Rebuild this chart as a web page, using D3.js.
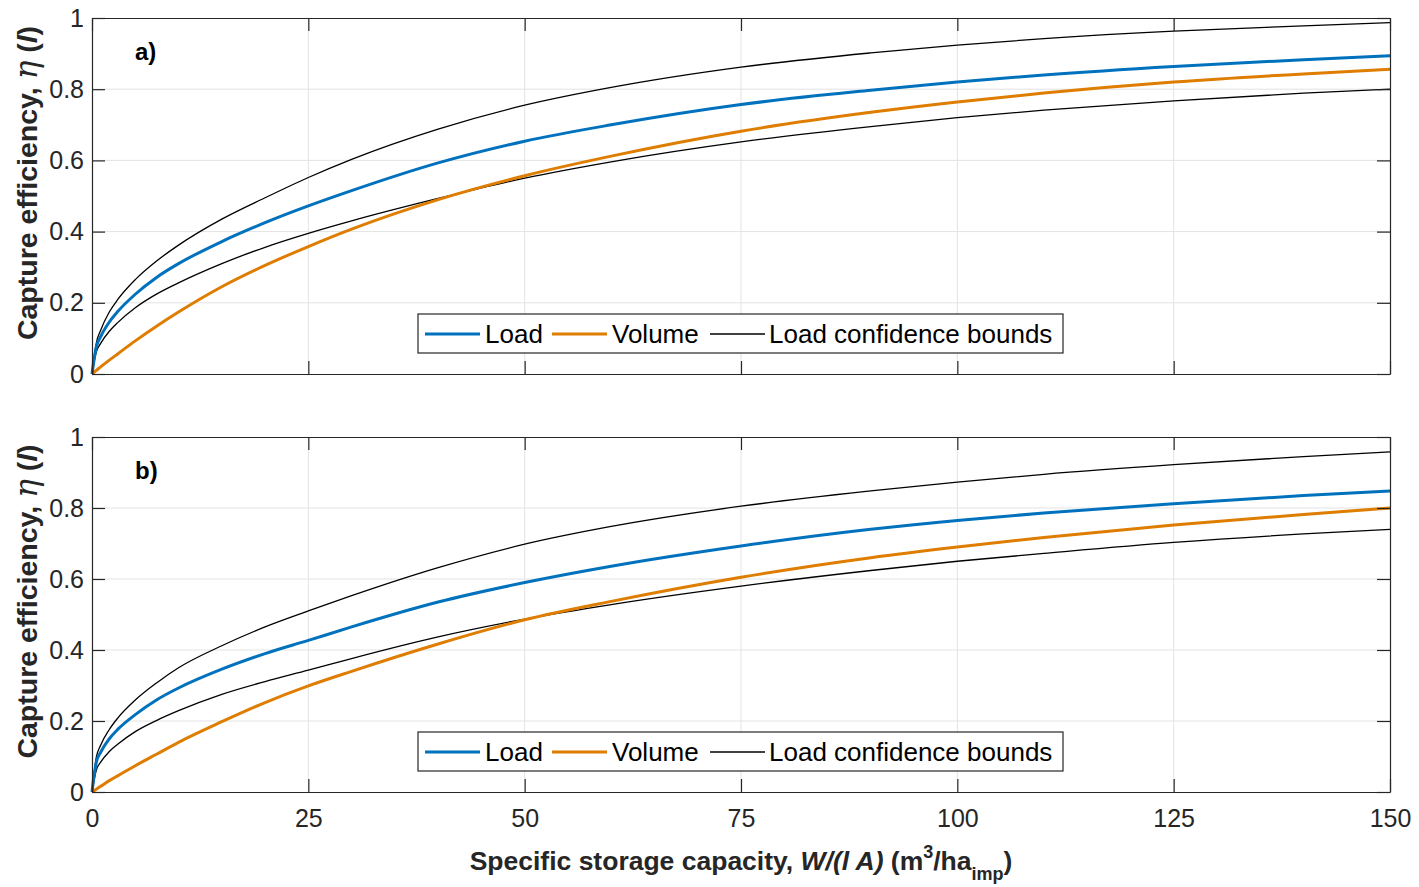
<!DOCTYPE html>
<html>
<head>
<meta charset="utf-8">
<script src="https://cdn.jsdelivr.net/npm/d3@7"></script>
<style>
  body { margin: 0; background: #fff; }
  svg { font-family: "Liberation Sans", Arial, sans-serif; }
</style>
</head>
<body>
<svg width="1419" height="887"></svg>
<script>
// storage capacity (m3/ha_imp) where the curves were read
var capacity = [0, 0.5, 1, 2, 3, 5, 7.5, 10, 15, 20, 25, 30, 40, 50, 60, 75, 90, 100, 110, 125, 140, 150];

// panel a)
var loadA  = [0, 0.076, 0.105, 0.146, 0.176, 0.224, 0.272, 0.31, 0.372, 0.425, 0.472, 0.515, 0.593, 0.654, 0.70, 0.757, 0.797, 0.820, 0.840, 0.864, 0.883, 0.894];
var volA   = [0, 0.01, 0.02, 0.039, 0.057, 0.093, 0.135, 0.174, 0.245, 0.305, 0.358, 0.407, 0.49, 0.557, 0.612, 0.682, 0.735, 0.764, 0.789, 0.82, 0.843, 0.856];
var upA    = [0, 0.087, 0.123, 0.174, 0.21, 0.265, 0.318, 0.362, 0.435, 0.495, 0.552, 0.603, 0.688, 0.755, 0.805, 0.862, 0.902, 0.924, 0.942, 0.963, 0.978, 0.987];
var lowA   = [0, 0.062, 0.086, 0.12, 0.145, 0.186, 0.225, 0.256, 0.31, 0.356, 0.395, 0.43, 0.493, 0.550, 0.596, 0.652, 0.695, 0.720, 0.741, 0.767, 0.789, 0.800];

// panel b)
var loadB  = [0, 0.084, 0.112, 0.15, 0.177, 0.218, 0.26, 0.293, 0.346, 0.39, 0.427, 0.465, 0.535, 0.59, 0.636, 0.693, 0.740, 0.765, 0.786, 0.812, 0.835, 0.848];
var volB   = [0, 0.008, 0.016, 0.032, 0.046, 0.074, 0.107, 0.14, 0.198, 0.252, 0.299, 0.34, 0.417, 0.485, 0.537, 0.605, 0.66, 0.69, 0.717, 0.752, 0.782, 0.80];
var upB    = [0, 0.098, 0.132, 0.176, 0.209, 0.259, 0.308, 0.35, 0.412, 0.465, 0.51, 0.553, 0.632, 0.698, 0.748, 0.805, 0.848, 0.873, 0.895, 0.922, 0.945, 0.958];
var lowB   = [0, 0.062, 0.084, 0.114, 0.135, 0.17, 0.202, 0.229, 0.275, 0.311, 0.343, 0.376, 0.437, 0.487, 0.528, 0.58, 0.624, 0.65, 0.672, 0.703, 0.727, 0.740];

var xTicks = [0, 25, 50, 75, 100, 125, 150];
var yTicks = [0, 0.2, 0.4, 0.6, 0.8, 1];

var svg = d3.select("svg");
var left = 92, right = 1390;
var axisCol = "#262626", gridCol = "#e3e3e3";
var blue = "#0072BD", orange = "#DE7D00";

var x = d3.scaleLinear().domain([0, 150]).range([left, right]);

function panel(top, bottom, tag, load, vol, up, low, showX) {
  var y = d3.scaleLinear().domain([0, 1]).range([bottom, top]);
  var g = svg.append("g");

  // grid
  g.selectAll(".gx").data(xTicks.slice(1, -1)).enter().append("line")
    .attr("x1", d => x(d)).attr("x2", d => x(d))
    .attr("y1", top).attr("y2", bottom)
    .attr("stroke", gridCol).attr("stroke-width", 1);
  g.selectAll(".gy").data(yTicks.slice(1, -1)).enter().append("line")
    .attr("x1", left).attr("x2", right)
    .attr("y1", d => y(d)).attr("y2", d => y(d))
    .attr("stroke", gridCol).attr("stroke-width", 1);

  var line = function(vals) {
    return d3.line()
      .x((d, i) => x(capacity[i]))
      .y(d => y(d))
      .curve(d3.curveMonotoneX)(vals);
  };
  g.append("path").attr("d", line(up)).attr("fill", "none").attr("stroke", "#000").attr("stroke-width", 1.3);
  g.append("path").attr("d", line(low)).attr("fill", "none").attr("stroke", "#000").attr("stroke-width", 1.3);
  g.append("path").attr("d", line(vol)).attr("fill", "none").attr("stroke", orange).attr("stroke-width", 3);
  g.append("path").attr("d", line(load)).attr("fill", "none").attr("stroke", blue).attr("stroke-width", 3);

  // axes (ticks inside, MATLAB style box)
  var ax = g.append("g").attr("transform", "translate(0," + bottom + ")")
    .call(d3.axisBottom(x).tickValues(xTicks).tickSizeInner(-13).tickSizeOuter(0).tickPadding(14)
      .tickFormat(showX ? d3.format("d") : ""));
  var axTop = g.append("g").attr("transform", "translate(0," + top + ")")
    .call(d3.axisTop(x).tickValues(xTicks).tickSizeInner(-13).tickSizeOuter(0).tickFormat(""));
  var ay = g.append("g").attr("transform", "translate(" + left + ",0)")
    .call(d3.axisLeft(y).tickValues(yTicks).tickSizeInner(-13).tickSizeOuter(0).tickPadding(8)
      .tickFormat(d => d === 0 || d === 1 ? d3.format("d")(d) : d3.format(".1f")(d)));
  var ayR = g.append("g").attr("transform", "translate(" + right + ",0)")
    .call(d3.axisRight(y).tickValues(yTicks).tickSizeInner(-13).tickSizeOuter(0).tickFormat(""));
  [ax, axTop, ay, ayR].forEach(function(a) {
    a.select(".domain").attr("stroke", axisCol).attr("stroke-width", 1.2);
    a.selectAll(".tick line").attr("stroke", axisCol).attr("stroke-width", 1.2);
    a.selectAll(".tick text").attr("fill", axisCol).style("font-size", "25px");
  });
  ax.selectAll(".tick text").attr("dy", "0.85em");

  // panel tag
  g.append("text").attr("x", 135).attr("y", top + 42)
    .style("font-size", "24px").style("font-weight", "bold").text(tag);

  // y label
  var yl = g.append("text")
    .attr("transform", "translate(37," + ((top + bottom) / 2 - 13) + ") rotate(-90)")
    .attr("text-anchor", "middle")
    .style("font-size", "28.5px").style("font-weight", "bold").attr("fill", axisCol);
  yl.append("tspan").text("Capture efficiency, ");
  yl.append("tspan").style("font-style", "italic").style("font-weight", "normal")
    .style("font-family", "'DejaVu Serif', serif").style("font-size", "31px").text("η");
  yl.append("tspan").text(" (");
  yl.append("tspan").style("font-style", "italic").text("l");
  yl.append("tspan").text(")");

  // legend
  var lg = g.append("g").attr("transform", "translate(418," + (bottom - 60) + ")");
  lg.append("rect").attr("width", 645).attr("height", 39)
    .attr("fill", "#fff").attr("stroke", axisCol).attr("stroke-width", 1.2);
  var items = [
    { name: "Load", col: blue, w: 3, x0: 7, tx: 67 },
    { name: "Volume", col: orange, w: 3, x0: 134, tx: 194 },
    { name: "Load confidence bounds", col: "#000", w: 1.3, x0: 292, tx: 351 }
  ];
  items.forEach(function(it) {
    lg.append("line").attr("x1", it.x0).attr("x2", it.x0 + 55)
      .attr("y1", 20).attr("y2", 20).attr("stroke", it.col).attr("stroke-width", it.w);
    lg.append("text").attr("x", it.tx).attr("y", 29)
      .style("font-size", "26px").attr("fill", "#000").text(it.name);
  });
}

panel(18, 374, "a)", loadA, volA, upA, lowA, false);
panel(437, 792, "b)", loadB, volB, upB, lowB, true);

// x label
var xl = svg.append("text").attr("x", 741).attr("y", 870)
  .attr("text-anchor", "middle")
  .style("font-size", "26.5px").style("font-weight", "bold").attr("fill", axisCol);
xl.append("tspan").text("Specific storage capacity, ");
xl.append("tspan").style("font-style", "italic").text("W/(l A)");
xl.append("tspan").text(" (m");
xl.append("tspan").attr("dy", -12).style("font-size", "18px").text("3");
xl.append("tspan").attr("dy", 12).text("/ha");
xl.append("tspan").attr("dy", 10).style("font-size", "18px").text("imp");
xl.append("tspan").attr("dy", -10).text(")");
</script>
</body>
</html>
